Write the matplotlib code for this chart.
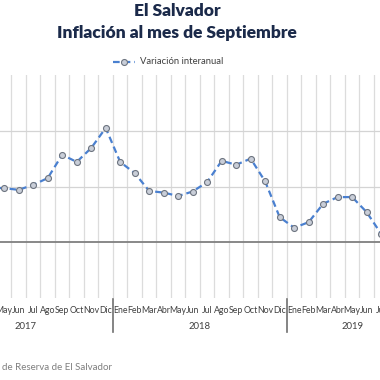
import matplotlib
matplotlib.use('Agg')
import matplotlib.pyplot as plt
import numpy as np

# months Ene 2017 .. Sep 2019 (chart is cropped: only May 2017 - Jul 2019 visible)
months = ['Ene', 'Feb', 'Mar', 'Abr', 'May', 'Jun', 'Jul', 'Ago', 'Sep', 'Oct', 'Nov', 'Dic',
          'Ene', 'Feb', 'Mar', 'Abr', 'May', 'Jun', 'Jul', 'Ago', 'Sep', 'Oct', 'Nov', 'Dic',
          'Ene', 'Feb', 'Mar', 'Abr', 'May', 'Jun', 'Jul', 'Ago', 'Sep']
years = ['2017', '2018', '2019']
year_len = [12, 12, 9]

# variacion interanual (%), nan = outside the visible crop
inflacion = [np.nan, np.nan, np.nan, 0.98,
             0.97, 0.94, 1.03, 1.15, 1.57, 1.44, 1.69, 2.05,
             1.44, 1.24, 0.92, 0.89, 0.83, 0.91, 1.08, 1.46, 1.39, 1.50, 1.09, 0.45,
             0.26, 0.36, 0.69, 0.81, 0.81, 0.54, 0.15, np.nan, np.nan]

navy = '#1b2a4a'
blue = '#4a80d0'
x0, x1 = 3.71, 29.92

fig = plt.figure(figsize=(3.8, 3.8), dpi=100)
ax = fig.add_axes([0, 82 / 380, 1, 223 / 380])

x = np.arange(len(months))
ax.plot(x, inflacion, color=blue, lw=1.6, ls=(0, (3, 1.8)), marker='o', ms=4.3,
        mfc='#c9ced8', mec='#6d7480', mew=0.8, zorder=3, clip_on=False)

# grid
ax.set_xticks(x[:-1] + 0.5, minor=True)
ax.set_xticks([])
ax.set_yticks([1, 2])
ax.set_ylim(-1, 3)
ax.grid(which='minor', axis='x', color='#dcdcdc', lw=0.9)
ax.grid(which='major', axis='y', color='#d4d4d4', lw=0.9)
ax.tick_params(which='both', length=0, labelleft=False, labelbottom=False)
ax.axhline(0, color='#7f7f7f', lw=1.3, zorder=2)
for s in ax.spines.values():
    s.set_visible(False)

# month / year labels (only those inside the visible window)
tr = ax.get_xaxis_transform()
for i, m in enumerate(months):
    if x0 - 0.5 < i < x1 + 0.5:
        ax.text(i, -0.058, m, transform=tr, ha='center', va='center', fontsize=6.3,
                family='Lato', color='#404040')
start = 0
for yr, n in zip(years, year_len):
    ax.text(start + (n - 1) / 2, -0.13, yr, transform=tr, ha='center', va='center',
            fontsize=6.8, family='Lato', color='#404040')
    if start > 0:
        ax.plot([start - 0.5, start - 0.5], [-0.005, -0.152], transform=tr,
                color='#6f6f6f', lw=1.2, clip_on=False)
    start += n
ax.set_xlim(x0, x1)

# titles and legend
fig.text(177 / 380, 1 - 11 / 380, 'El Salvador', ha='center', va='center',
         fontsize=12.5, fontweight='heavy', family='Lato', color=navy)
fig.text(177 / 380, 1 - 33 / 380, 'Inflación al mes de Septiembre', ha='center', va='center',
         fontsize=12.5, fontweight='heavy', family='Lato', color=navy)
fig.lines.append(plt.Line2D([113 / 380, 135 / 380], [1 - 62 / 380, 1 - 62 / 380],
                            transform=fig.transFigure, color=blue, lw=1.6, ls=(0, (3, 1.8))))
fig.lines.append(plt.Line2D([124 / 380], [1 - 62 / 380], transform=fig.transFigure,
                            marker='o', ms=4.3, mfc='#c9ced8', mec='#6d7480', mew=0.8))
fig.text(140 / 380, 1 - 62 / 380, 'Variación interanual', ha='left', va='center',
         fontsize=6.8, family='Lato', color='#404040')

fig.text(112 / 380, 1 - 368 / 380, 'Fuente: Banco Central de Reserva de El Salvador',
         ha='right', va='center', fontsize=7, family='Lato', color='#7f7f7f')

fig.savefig('out.png', dpi=100)
